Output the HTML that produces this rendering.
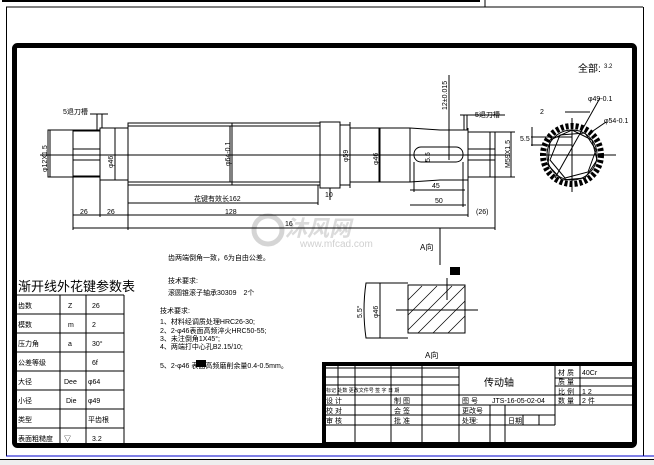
<!DOCTYPE html>
<html><head><meta charset="utf-8"><style>
html,body{margin:0;padding:0;background:#fff;}
svg{display:block;}
text{font-family:"Liberation Sans","Noto Sans CJK SC",sans-serif;fill:#000;}
</style></head><body>
<svg width="654" height="465" viewBox="0 0 654 465" xmlns="http://www.w3.org/2000/svg">
<rect width="654" height="465" fill="#fff"/>
<line x1="2" y1="1" x2="480" y2="1" stroke="#000" stroke-width="2"/>
<line x1="485" y1="0" x2="485" y2="7" stroke="#000"/>
<line x1="6" y1="7" x2="643" y2="7" stroke="#000"/>
<line x1="6.5" y1="7" x2="6.5" y2="456" stroke="#000"/>
<line x1="643.5" y1="7" x2="643.5" y2="456" stroke="#000"/>
<line x1="6" y1="456" x2="654" y2="456" stroke="#0000cc"/>
<rect x="0" y="460" width="654" height="5" fill="#eee"/>
<line x1="0" y1="459.5" x2="654" y2="459.5" stroke="#000"/>
<rect x="14.5" y="45.5" width="620" height="400" fill="none" stroke="#000" stroke-width="5" rx="3"/>

<g opacity="0.35">
<circle cx="268" cy="230" r="14" fill="none" stroke="#888" stroke-width="5"/>
<text x="285" y="236" font-size="22" font-style="italic" font-weight="bold" style="fill:#999">沐风网</text>
<text x="300" y="247" font-size="10" style="fill:#777">www.mfcad.com</text>
</g>

<g stroke="#000" fill="none" stroke-width="1">
<line x1="40" y1="155" x2="510" y2="155"/>
<rect x="48" y="130" width="52" height="47"/>
<rect x="73" y="131" width="27" height="45"/>
<line x1="73" y1="149" x2="100" y2="149"/><line x1="73" y1="160" x2="100" y2="160"/>
<rect x="100" y="128" width="28" height="52"/>
<line x1="97" y1="114" x2="97" y2="130"/><line x1="102" y1="114" x2="102" y2="128"/>
<line x1="90" y1="114" x2="108" y2="114"/>
<rect x="128" y="123" width="192" height="62"/>
<line x1="128" y1="126" x2="320" y2="126"/><line x1="128" y1="182" x2="320" y2="182"/>
<line x1="232" y1="123" x2="232" y2="185"/>
<rect x="320" y="122" width="20" height="66"/>
<rect x="340" y="125" width="10" height="60"/>
<line x1="350" y1="128" x2="410" y2="128"/><line x1="350" y1="182" x2="410" y2="182"/>
<path d="M410 128 L440 130 L468 130 M410 182 L440 180 L468 180"/>
<line x1="380" y1="128" x2="380" y2="182"/><line x1="410" y1="128" x2="410" y2="182"/>
<line x1="468" y1="128" x2="468" y2="182"/>
<rect x="414" y="147" width="49" height="15" rx="7"/>
<rect x="468" y="132" width="27" height="45"/>
<line x1="468" y1="149" x2="495" y2="149"/><line x1="468" y1="160" x2="495" y2="160"/>
<line x1="490" y1="132" x2="490" y2="177"/>
<line x1="449" y1="75" x2="449" y2="160"/>
<line x1="464" y1="115" x2="464" y2="130"/><line x1="467" y1="115" x2="467" y2="130"/>
<line x1="460" y1="115" x2="505" y2="115"/>
<line x1="50" y1="130" x2="50" y2="177"/><line x1="115" y1="128" x2="115" y2="180"/>
<line x1="230" y1="126" x2="230" y2="182"/>
<line x1="350" y1="122" x2="350" y2="188"/><line x1="379" y1="128" x2="379" y2="182"/>
<line x1="511" y1="132" x2="511" y2="177"/><line x1="495" y1="132" x2="515" y2="132"/><line x1="495" y1="177" x2="515" y2="177"/>
<line x1="128" y1="203" x2="318" y2="203"/>
<line x1="128" y1="185" x2="128" y2="230"/><line x1="318" y1="185" x2="318" y2="205"/>
<line x1="73" y1="215" x2="468" y2="215"/>
<line x1="73" y1="177" x2="73" y2="230"/><line x1="100" y1="180" x2="100" y2="217"/>
<line x1="73" y1="228" x2="495" y2="228"/><line x1="495" y1="177" x2="495" y2="230"/>
<line x1="468" y1="182" x2="468" y2="217"/>
<line x1="410" y1="190" x2="465" y2="190"/><line x1="410" y1="205" x2="466" y2="205"/>
<line x1="414" y1="162" x2="414" y2="192"/><line x1="463" y1="162" x2="463" y2="207"/>
<line x1="330" y1="188" x2="330" y2="200"/>
<line x1="440" y1="228" x2="440" y2="265"/>
<circle cx="572" cy="155" r="29" stroke-width="6" stroke-dasharray="3 2"/>
<circle cx="572" cy="155" r="25"/>
<polygon points="572,130 592,140 597,160 585,178 562,180 548,165 550,140" />
<polygon points="560,135 585,133 596,150 588,172 565,178 550,160" />
<line x1="540" y1="155" x2="616" y2="155"/><line x1="572" y1="118" x2="572" y2="192"/>
<line x1="555" y1="178" x2="600" y2="98"/><line x1="590" y1="133" x2="606" y2="122"/>
<line x1="531" y1="137" x2="572" y2="137"/><line x1="531" y1="145" x2="572" y2="145"/>
<line x1="532" y1="127" x2="532" y2="146"/>
<line x1="565" y1="112" x2="590" y2="112"/>
<path d="M366 283 L380 283 L380 338 L366 338 Q362 310 366 283 Z"/>
<line x1="380" y1="283" x2="408" y2="283"/><line x1="380" y1="338" x2="408" y2="338"/>
<rect x="408" y="285" width="57" height="48"/>
<line x1="396" y1="310" x2="478" y2="310"/>
<line x1="447" y1="278" x2="447" y2="300"/>
<g stroke-width="0.7">
<line x1="408" y1="300" x2="422" y2="286"/><line x1="408" y1="315" x2="437" y2="286"/>
<line x1="408" y1="330" x2="452" y2="286"/><line x1="418" y1="333" x2="465" y2="286"/>
<line x1="433" y1="333" x2="465" y2="301"/><line x1="448" y1="333" x2="465" y2="316"/>
</g>
<line x1="17" y1="295" x2="124" y2="295"/>
<line x1="17" y1="314" x2="124" y2="314"/><line x1="17" y1="333" x2="124" y2="333"/>
<line x1="17" y1="352" x2="124" y2="352"/><line x1="17" y1="371" x2="124" y2="371"/>
<line x1="17" y1="390" x2="124" y2="390"/><line x1="17" y1="409" x2="124" y2="409"/>
<line x1="17" y1="428" x2="124" y2="428"/>
<line x1="60" y1="295" x2="60" y2="443"/><line x1="86" y1="295" x2="86" y2="443"/><line x1="124" y1="295" x2="124" y2="443"/>
<rect x="324" y="364" width="310" height="80" stroke-width="4"/>
<line x1="324" y1="368" x2="459" y2="368"/><line x1="324" y1="377" x2="459" y2="377"/>
<line x1="324" y1="385" x2="459" y2="385"/><line x1="324" y1="395" x2="634" y2="395"/>
<line x1="324" y1="405" x2="634" y2="405"/><line x1="324" y1="415" x2="555" y2="415"/>
<line x1="324" y1="425" x2="555" y2="425"/>
<line x1="555" y1="378" x2="634" y2="378"/><line x1="555" y1="386" x2="634" y2="386"/>
<line x1="338" y1="364" x2="338" y2="395"/><line x1="355" y1="364" x2="355" y2="444"/>
<line x1="391" y1="364" x2="391" y2="444"/><line x1="422" y1="364" x2="422" y2="444"/>
<line x1="459" y1="364" x2="459" y2="444"/><line x1="555" y1="364" x2="555" y2="425"/>
<line x1="580" y1="364" x2="580" y2="405"/><line x1="505" y1="405" x2="505" y2="425"/>
<line x1="490" y1="405" x2="490" y2="444"/><line x1="523" y1="415" x2="523" y2="425"/>
<line x1="539" y1="415" x2="539" y2="425"/><line x1="505" y1="425" x2="505" y2="444"/>
</g>

<g font-size="7">
<text x="63" y="114">5退刀槽</text>
<text x="475" y="117">5退刀槽</text>
<text x="194" y="201">花键有效长162</text>
<text x="80" y="214">26</text><text x="107" y="214">26</text><text x="225" y="214">128</text>
<text x="476" y="214">(26)</text><text x="435" y="203">50</text><text x="432" y="188">45</text>
<text x="325" y="197">10</text><text x="285" y="226">16</text>
<text x="540" y="114">2</text><text x="520" y="141">5.5</text>
<text x="588" y="101">φ49-0.1</text><text x="604" y="123">φ54-0.1</text>
<text x="578" y="72" font-size="10">全部:</text><text x="604" y="68" font-size="6">3.2</text>
<text x="420" y="250" font-size="8">A向</text><text x="425" y="358" font-size="8">A向</text>
<text x="168" y="260">齿两端倒角一致，6为自由公差。</text>
<text x="168" y="283">技术要求:</text>
<text x="168" y="295">滚圆锥滚子轴承30309　2个</text>
<text x="160" y="313">技术要求:</text>
<text x="160" y="324">1、材料经调质处理HRC26-30;</text>
<text x="160" y="333">2、2-φ46表面高频淬火HRC50-55;</text>
<text x="160" y="341">3、未注倒角1X45°;</text>
<text x="160" y="349">4、两端打中心孔B2.15/10;</text>
<text x="160" y="368">5、2-φ46  表面高频磨削余量0.4-0.5mm。</text>
<text x="18" y="308">齿数</text><text x="18" y="327">模数</text><text x="18" y="346">压力角</text>
<text x="18" y="365">公差等级</text><text x="18" y="384">大径</text><text x="18" y="403">小径</text>
<text x="18" y="422">类型</text><text x="18" y="441">表面粗糙度</text>
<text x="68" y="308">Z</text><text x="68" y="327">m</text><text x="68" y="346">a</text>
<text x="64" y="384">Dee</text><text x="66" y="403">Die</text><text x="64" y="441">▽</text>
<text x="92" y="308">26</text><text x="92" y="327">2</text><text x="92" y="346">30°</text>
<text x="92" y="365">6f</text><text x="88" y="384">φ64</text><text x="88" y="403">φ49</text>
<text x="88" y="422">平齿根</text><text x="92" y="441">3.2</text>
<text x="558" y="375">材 质</text><text x="582" y="375">40Cr</text>
<text x="558" y="384">质 量</text><text x="558" y="394">比 例</text><text x="582" y="394">1 2</text>
<text x="558" y="403">数 量</text><text x="582" y="403">2 件</text>
<text x="326" y="403">设 计</text><text x="394" y="403">制 图</text>
<text x="326" y="413">校 对</text><text x="394" y="413">会 签</text>
<text x="326" y="423">审 核</text><text x="394" y="423">批 准</text>
<text x="462" y="403">图 号</text><text x="492" y="403">JTS-16-05-02-04</text>
<text x="462" y="413">更改号</text><text x="462" y="423">处理:</text><text x="508" y="423">日期:</text>
<text x="326" y="392" font-size="5">标记 处数 更改文件号 签 字 日 期</text>
</g>
<text x="484" y="386" font-size="10">传动轴</text>
<text x="18" y="291" font-size="13">渐开线外花键参数表</text>
<g font-size="7">
<text transform="translate(47,172) rotate(-90)">φ12X1.5</text>
<text transform="translate(113,168) rotate(-90)">φ46</text>
<text transform="translate(230,166) rotate(-90)">φ64-0.1</text>
<text transform="translate(348,162) rotate(-90)">φ59</text>
<text transform="translate(378,165) rotate(-90)">φ46</text>
<text transform="translate(430,162) rotate(-90)">5.5</text>
<text transform="translate(447,110) rotate(-90)">12±0.015</text>
<text transform="translate(510,168) rotate(-90)">M59X1.5</text>
<text transform="translate(362,318) rotate(-90)">5.5°</text>
<text transform="translate(378,318) rotate(-90)">φ46</text>
</g>
<rect x="450" y="267" width="10" height="8" fill="#000"/>
<rect x="196" y="360" width="10" height="7" fill="#000"/>
</svg>
</body></html>
